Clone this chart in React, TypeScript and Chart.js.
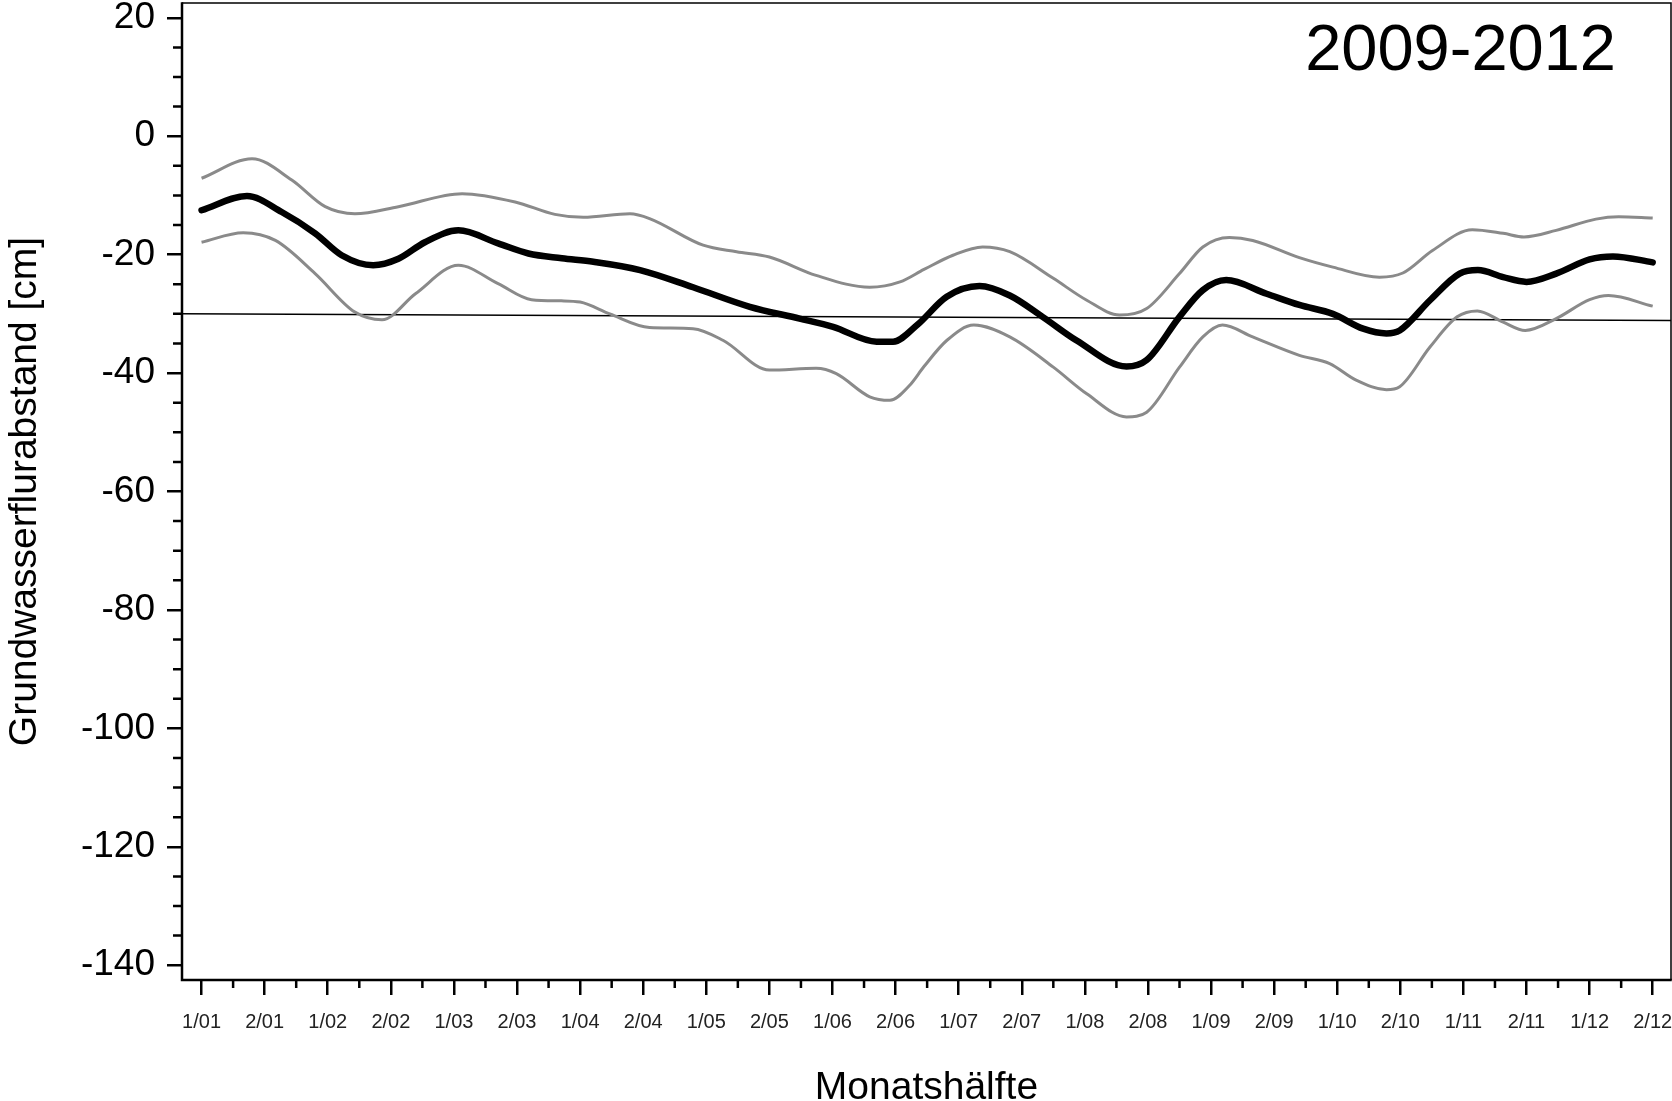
import React, { useEffect, useRef } from 'react';
import { Chart, registerables } from 'chart.js';

Chart.register(...registerables);

const xLabels = ['1/01', '2/01', '1/02', '2/02', '1/03', '2/03', '1/04', '2/04', '1/05', '2/05', '1/06', '2/06',
  '1/07', '2/07', '1/08', '2/08', '1/09', '2/09', '1/10', '2/10', '1/11', '2/11', '1/12', '2/12'];
const yTicks = [-140, -120, -100, -80, -60, -40, -20, 0, 20];
const yMin = -142.5;
const yMax = 22.5;
const xMin = -0.31;
const xMax = 23.29;

const meanX = [0, 0.72, 1.27, 1.8, 2.22, 2.72, 3.12, 3.54, 4.07, 4.7, 5.18, 5.71, 6.21, 6.95, 7.79, 8.69, 9.48, 10.01,
  10.7, 10.96, 11.35, 11.81, 12.33, 12.81, 13.33, 13.87, 14.66, 14.98, 15.5, 15.87, 16.24, 16.88, 17.4, 17.93, 18.41,
  18.78, 18.99, 19.47, 19.94, 20.23, 20.63, 21.0, 21.47, 22.0, 22.37, 23.0];
const meanY = [-12.5, -10.1, -12.8, -16.4, -20.1, -21.8, -20.7, -17.9, -15.9, -18.1, -19.8, -20.6, -21.2, -22.6, -25.5,
  -28.8, -30.8, -32.2, -34.7, -34.7, -31.8, -27.1, -25.3, -26.9, -30.5, -34.5, -38.9, -37.8, -30.5, -26.0, -24.3, -26.6,
  -28.5, -30.0, -32.5, -33.3, -32.8, -27.7, -23.2, -22.6, -23.8, -24.6, -23.2, -20.8, -20.3, -21.3];

const upperX = [0, 0.8, 1.43, 1.96, 2.43, 3.12, 4.13, 4.97, 5.6, 6.05, 6.79, 7.1, 7.95, 8.48, 9.0, 9.74, 10.59, 11.07,
  11.45, 11.91, 12.38, 12.81, 13.5, 14.03, 14.55, 14.98, 15.5, 15.87, 16.29, 16.66, 17.4, 17.93, 18.67, 19.04, 19.51,
  20.14, 20.63, 20.96, 21.47, 22.1, 22.46, 23.0];
const upperY = [-7.1, -3.8, -7.4, -11.9, -13.1, -11.9, -9.7, -11.1, -13.2, -13.7, -13.1, -13.9, -18.4, -19.5, -20.4,
  -23.5, -25.5, -24.6, -22.5, -20.1, -18.7, -19.5, -24.0, -27.7, -30.2, -29.1, -23.2, -18.7, -17.1, -17.6, -20.5, -22.1,
  -23.8, -23.1, -19.3, -15.8, -16.4, -17.0, -15.9, -14.0, -13.6, -13.8];

const lowerX = [0, 0.66, 1.17, 1.8, 2.43, 2.86, 3.39, 4.07, 4.7, 5.23, 5.7, 6.0, 6.47, 7.1, 7.79, 8.27, 9.0, 9.74, 10.06,
  10.59, 10.91, 11.22, 11.45, 11.81, 12.24, 12.81, 13.5, 14.03, 14.66, 14.98, 15.5, 15.87, 16.18, 16.66, 17.4, 17.88,
  18.3, 18.78, 18.99, 19.47, 19.9, 20.22, 20.63, 20.98, 21.47, 22.0, 22.3, 23.0];
const lowerY = [-17.9, -16.3, -17.6, -23.2, -29.7, -31.0, -26.6, -21.8, -24.9, -27.6, -27.8, -28.0, -30.0, -32.3, -32.5,
  -34.5, -39.5, -39.2, -40.1, -44.0, -44.6, -42.1, -38.9, -34.5, -31.9, -33.9, -39.0, -43.5, -47.4, -46.6, -39.0, -33.9,
  -31.9, -33.9, -37.0, -38.4, -41.2, -42.8, -42.3, -35.6, -30.5, -29.5, -31.4, -32.8, -30.8, -27.6, -26.9, -28.7];

const trendX = [xMin, xMax];
const trendY = [-30.0, -31.1];

const periodLabel = '2009-2012';
const xTitle = 'Monatshälfte';
const yTitle = 'Grundwasserflurabstand [cm]';

const FONT = "'Liberation Sans', Arial, sans-serif";

const toPoints = (xs: number[], ys: number[]) => xs.map((x, i) => ({ x, y: ys[i] }));

const framePlugin = {
  id: 'framePlugin',
  afterDraw(chart: any) {
    const { ctx, chartArea: a, scales } = chart;
    const x = scales.x;
    const y = scales.y;
    ctx.save();
    ctx.strokeStyle = '#000';
    ctx.lineCap = 'butt';
    // top and right thin frame
    ctx.lineWidth = 1.5;
    ctx.beginPath();
    ctx.moveTo(a.left, a.top);
    ctx.lineTo(a.right, a.top);
    ctx.lineTo(a.right, a.bottom);
    ctx.stroke();
    // left and bottom axes
    ctx.lineWidth = 2.5;
    ctx.beginPath();
    ctx.moveTo(a.left, a.top - 0.75);
    ctx.lineTo(a.left, a.bottom);
    ctx.lineTo(a.right + 0.75, a.bottom);
    ctx.stroke();
    // minor ticks
    ctx.lineWidth = 2.5;
    ctx.beginPath();
    for (let v = yTicks[0]; v <= yTicks[yTicks.length - 1]; v += 5) {
      if (v % 20 === 0) continue;
      const py = y.getPixelForValue(v);
      ctx.moveTo(a.left - 9, py);
      ctx.lineTo(a.left, py);
    }
    for (let i = 0; i < xLabels.length - 1; i++) {
      const px = x.getPixelForValue(i + 0.5);
      ctx.moveTo(px, a.bottom);
      ctx.lineTo(px, a.bottom + 8);
    }
    ctx.stroke();
    // period label
    ctx.fillStyle = '#000';
    ctx.font = `65px ${FONT}`;
    ctx.textAlign = 'right';
    ctx.textBaseline = 'alphabetic';
    ctx.fillText(periodLabel, a.right - 55, a.top + 67);
    // x axis title
    ctx.font = `39px ${FONT}`;
    ctx.textAlign = 'center';
    ctx.fillText(xTitle, (a.left + a.right) / 2, 1099);
    ctx.restore();
  },
};

export default function App() {
  const ref = useRef<HTMLCanvasElement | null>(null);

  useEffect(() => {
    document.body.style.margin = '0';
    const canvas = ref.current;
    if (!canvas) return;
    const chart = new Chart(canvas, {
      type: 'line',
      data: {
        datasets: [
          {
            label: 'upper',
            data: toPoints(upperX, upperY),
            borderColor: '#8a8a8a',
            borderWidth: 3,
            pointRadius: 0,
            cubicInterpolationMode: 'monotone',
            fill: false,
          },
          {
            label: 'lower',
            data: toPoints(lowerX, lowerY),
            borderColor: '#8a8a8a',
            borderWidth: 3,
            pointRadius: 0,
            cubicInterpolationMode: 'monotone',
            fill: false,
          },
          {
            label: 'trend',
            data: toPoints(trendX, trendY),
            borderColor: '#000',
            borderWidth: 1.5,
            pointRadius: 0,
            tension: 0,
            fill: false,
          },
          {
            label: 'mean',
            data: toPoints(meanX, meanY),
            borderColor: '#000',
            borderWidth: 6.5,
            pointRadius: 0,
            cubicInterpolationMode: 'monotone',
            fill: false,
            borderCapStyle: 'round',
          },
        ],
      },
      options: {
        responsive: false,
        animation: false,
        devicePixelRatio: 1,
        layout: { padding: { top: 3, right: 1, left: 0, bottom: 0 } },
        plugins: {
          legend: { display: false },
          tooltip: { enabled: false },
          title: { display: false },
        },
        scales: {
          x: {
            type: 'linear',
            min: xMin,
            max: xMax,
            border: { display: false },
            grid: { drawOnChartArea: false, color: '#000', lineWidth: 2.5, tickLength: 15 },
            afterBuildTicks: (scale: any) => {
              scale.ticks = xLabels.map((_, i) => ({ value: i }));
            },
            afterFit: (scale: any) => {
              scale.height = 121;
              scale.paddingLeft = 0;
              scale.paddingRight = 0;
            },
            ticks: {
              autoSkip: false,
              maxRotation: 0,
              minRotation: 0,
              padding: 15,
              color: '#222',
              font: { family: FONT, size: 20 },
              callback: (_v: any, i: number) => xLabels[i],
            },
          },
          y: {
            type: 'linear',
            min: yMin,
            max: yMax,
            border: { display: false },
            grid: { drawOnChartArea: false, color: '#000', lineWidth: 2.5, tickLength: 15 },
            afterBuildTicks: (scale: any) => {
              scale.ticks = yTicks.map((v) => ({ value: v }));
            },
            afterFit: (scale: any) => {
              scale.width = 182;
              scale.paddingTop = 0;
              scale.paddingBottom = 0;
            },
            ticks: {
              padding: 12,
              color: '#000',
              font: { family: FONT, size: 37 },
              callback: (v: any) => String(v),
            },
            title: {
              display: true,
              text: yTitle,
              color: '#000',
              font: { family: FONT, size: 39 },
              padding: { top: 2, bottom: 0 },
            },
          },
        },
      },
      plugins: [framePlugin],
    } as any);
    return () => chart.destroy();
  }, []);

  return (
    <div style={{ position: 'fixed', left: 0, top: 0, width: 1672, height: 1101, background: '#fff', overflow: 'hidden' }}>
      <canvas ref={ref} width={1672} height={1101} style={{ width: 1672, height: 1101, display: 'block' }} />
    </div>
  );
}
